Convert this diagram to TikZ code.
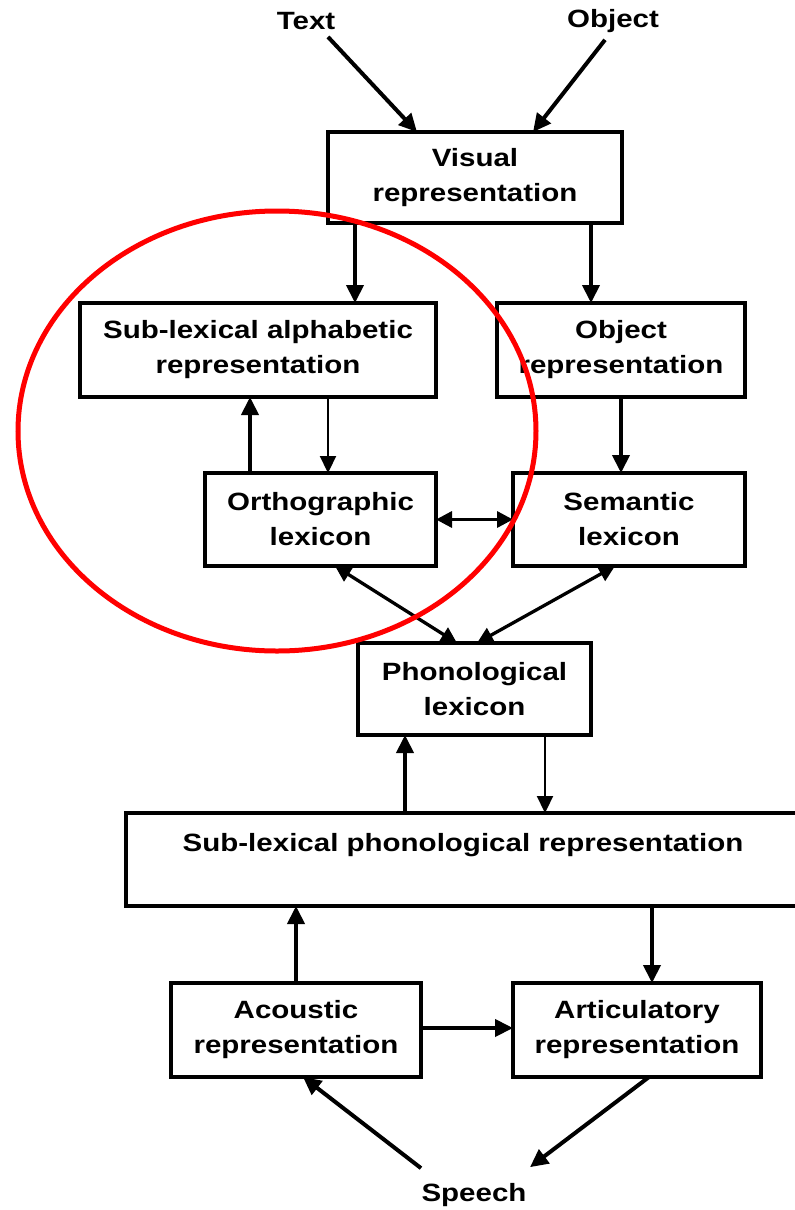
\documentclass[tikz,border=0pt]{standalone}
\usepackage{fontspec}
\setmainfont{Liberation Sans}[FakeStretch=1.18]
\usetikzlibrary{arrows.meta,calc}
\begin{document}
\begin{tikzpicture}[x=1pt,y=-1pt,
  box/.style={draw=black,line width=3.5pt,inner sep=0pt,outer sep=0pt,align=center,
    font=\fontsize{25}{35}\selectfont\bfseries},
  lbl/.style={inner sep=0pt,font=\fontsize{25}{35}\selectfont\bfseries},
  arr/.style={line width=4pt,-{Triangle[length=18pt,width=17pt]}},
  thinarr/.style={line width=2.2pt,-{Triangle[length=17pt,width=16pt]}},
  darr/.style={line width=3.3pt,{Triangle[length=16pt,width=16pt]}-{Triangle[length=16pt,width=16pt]}}]
\useasboundingbox[fill=white] (0,0) rectangle (795,1210);
% labels
\node[lbl] (textlbl) at (306,21) {Text};
\node[lbl] (objlbl) at (613,21) {Object};
\node[lbl] (speech) at (474,1195) {Speech};
% boxes
\node[box,minimum width=294pt,minimum height=91pt] (visual) at (475,177.5) {Visual\\representation};
\node[box,minimum width=356pt,minimum height=94pt] (alpha) at (258,350) {Sub-lexical alphabetic\\representation};
\node[box,minimum width=248pt,minimum height=94pt] (objrep) at (621,350) {Object\\representation};
\node[box,minimum width=231pt,minimum height=93pt] (ortho) at (320.5,519.5) {Orthographic\\lexicon};
\node[box,minimum width=232pt,minimum height=93pt] (sem) at (629,519.5) {Semantic\\lexicon};
\node[box,minimum width=233pt,minimum height=92pt] (phono) at (474.5,689) {Phonological\\lexicon};
\node[box,minimum width=674pt,minimum height=93pt] (sublexphon) at (463,859.5) {Sub-lexical phonological representation\\\mbox{}};
\node[box,minimum width=250pt,minimum height=94pt] (acoustic) at (296,1030) {Acoustic\\representation};
\node[box,minimum width=248pt,minimum height=94pt] (artic) at (637,1030) {Articulatory\\representation};
% connectors
\draw[arr] ($(textlbl.south)+(22,7)$) -- ($(visual.north)+(-58,0)$);
\draw[arr] ($(objlbl.south)+(-8,7)$) -- ($(visual.north)+(58,0)$);
\draw[arr] ($(visual.south)+(-120,0)$) -- ($(alpha.north)+(97,0)$);
\draw[arr] ($(visual.south)+(116,0)$) -- ($(objrep.north)+(-30,0)$);
\draw[arr] ($(ortho.north)+(-70.5,0)$) -- ($(alpha.south)+(-8,0)$);
\draw[thinarr] ($(alpha.south)+(70,0)$) -- ($(ortho.north)+(7.5,0)$);
\draw[arr] (objrep.south) -- ($(sem.north)+(-8,0)$);
\draw[darr] (ortho.east) -- (sem.west);
\draw[darr] ($(ortho.south)+(14.5,0)$) -- ($(phono.north)+(-17.5,0)$);
\draw[darr] ($(sem.south)+(-14,0)$) -- ($(phono.north)+(2.5,0)$);
\draw[arr] ($(sublexphon.north)+(-58,0)$) -- ($(phono.south)+(-69.5,0)$);
\draw[thinarr] ($(phono.south)+(70.5,0)$) -- ($(sublexphon.north)+(82,0)$);
\draw[arr] ($(acoustic.north)+(0,0)$) -- ($(sublexphon.south)+(-167,0)$);
\draw[arr] ($(sublexphon.south)+(189,0)$) -- ($(artic.north)+(15,0)$);
\draw[arr] ($(acoustic.east)+(0,-2)$) -- ($(artic.west)+(0,-2)$);
\draw[arr] ($(speech.north)+(-53,-15)$) -- ($(acoustic.south)+(7,0)$);
\draw[arr] ($(artic.south)+(12,0)$) -- ($(speech.north)+(56,-16)$);
% red ellipse
\draw[red,line width=5pt] (277,431) ellipse [x radius=259, y radius=220];
\end{tikzpicture}
\end{document}
